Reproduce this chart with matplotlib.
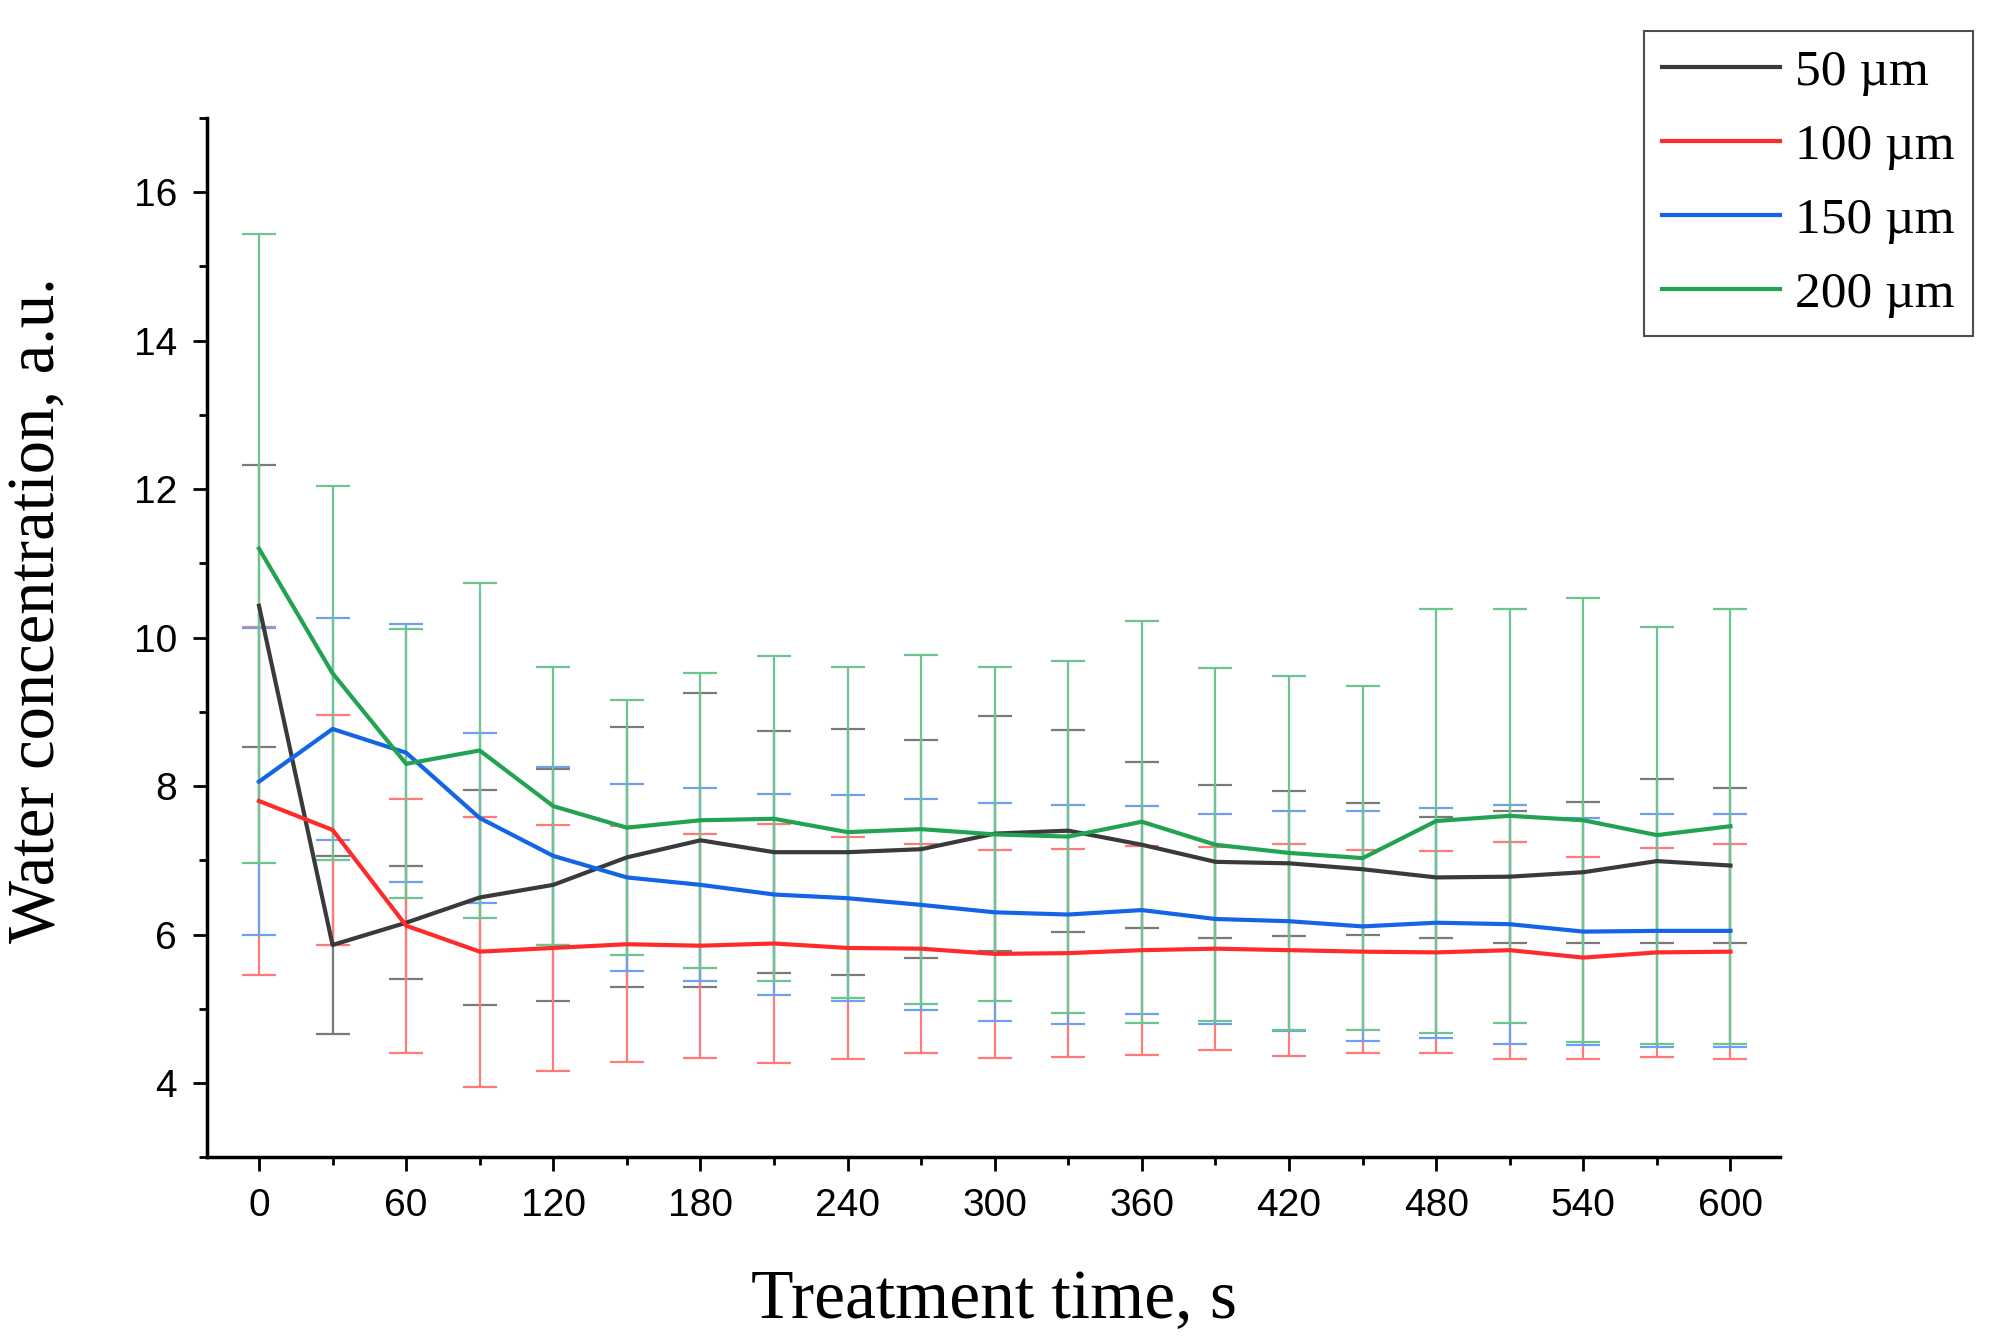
import numpy as np
import matplotlib
matplotlib.use('Agg')
import matplotlib.pyplot as plt
from matplotlib.ticker import MultipleLocator

# treatment time, s
time_s = [0, 30, 60, 90, 120, 150, 180, 210, 240, 270, 300,
          330, 360, 390, 420, 450, 480, 510, 540, 570, 600]

labels = ['50 µm', '100 µm', '150 µm', '200 µm']

mean_50 = [10.43, 5.86, 6.16, 6.50, 6.67, 7.04, 7.27, 7.11, 7.11, 7.15, 7.36,
           7.40, 7.21, 6.98, 6.96, 6.88, 6.77, 6.78, 6.84, 6.99, 6.93]
err_50 = [1.90, 1.20, 0.76, 1.45, 1.56, 1.75, 1.98, 1.63, 1.66, 1.47, 1.58,
          1.36, 1.12, 1.03, 0.98, 0.89, 0.82, 0.89, 0.95, 1.10, 1.04]

mean_100 = [7.80, 7.41, 6.12, 5.77, 5.82, 5.87, 5.85, 5.88, 5.82, 5.81, 5.74,
            5.75, 5.79, 5.81, 5.79, 5.77, 5.76, 5.79, 5.69, 5.76, 5.77]
err_100 = [2.34, 1.55, 1.71, 1.82, 1.66, 1.59, 1.51, 1.61, 1.50, 1.41, 1.40,
           1.40, 1.41, 1.37, 1.43, 1.37, 1.36, 1.46, 1.36, 1.41, 1.45]

mean_150 = [8.06, 8.77, 8.45, 7.57, 7.06, 6.77, 6.67, 6.54, 6.49, 6.40, 6.30,
            6.27, 6.33, 6.21, 6.18, 6.11, 6.16, 6.14, 6.04, 6.05, 6.05]
err_150 = [2.07, 1.50, 1.74, 1.14, 1.20, 1.26, 1.30, 1.36, 1.39, 1.42, 1.47,
           1.48, 1.40, 1.42, 1.48, 1.55, 1.55, 1.61, 1.53, 1.57, 1.57]

mean_200 = [11.20, 9.52, 8.30, 8.48, 7.73, 7.44, 7.54, 7.56, 7.38, 7.42, 7.35,
            7.32, 7.52, 7.21, 7.10, 7.03, 7.53, 7.60, 7.54, 7.34, 7.46]
err_200 = [4.24, 2.52, 1.81, 2.25, 1.87, 1.72, 1.99, 2.19, 2.23, 2.35, 2.25,
           2.37, 2.71, 2.38, 2.39, 2.32, 2.86, 2.79, 2.99, 2.81, 2.93]

colors = ['#3a3a3a', '#ff2b2b', '#1464e6', '#22a352']
err_colors = ['#7a7a7a', '#ff7a7a', '#6fa0f0', '#6cc58e']
means = [mean_50, mean_100, mean_150, mean_200]
errs = [err_50, err_100, err_150, err_200]

plt.rcParams['font.family'] = ['Liberation Sans', 'DejaVu Sans']

fig = plt.figure(figsize=(19.95, 13.41), dpi=100)
ax = fig.add_axes([0.104, 0.137, 0.788, 0.775])

handles = []
for i, (m, e, c, ec, lab) in enumerate(zip(means, errs, colors, err_colors, labels)):
    ax.errorbar(time_s, m, yerr=e, fmt='none', ecolor=ec, elinewidth=1.6,
                capsize=12, capthick=1.6, zorder=2 + i * 0.1)
    h, = ax.plot(time_s, m, color=c, lw=3, label=lab, zorder=3)
    handles.append(h)

ax.set_xlim(-21, 620)
ax.set_ylim(3, 17)
ax.xaxis.set_major_locator(MultipleLocator(60))
ax.xaxis.set_minor_locator(MultipleLocator(30))
ax.yaxis.set_minor_locator(MultipleLocator(1))
ax.set_yticks(np.arange(4, 17, 2))

for s in ['top', 'right']:
    ax.spines[s].set_visible(False)
for s in ['left', 'bottom']:
    ax.spines[s].set_linewidth(2.5)

ax.tick_params(which='major', length=10, width=2, labelsize=28, pad=12)
ax.tick_params(which='minor', length=6, width=2)

ax.set_xlabel('Treatment time, s', family='Liberation Serif', fontsize=50, labelpad=33)
ax.set_ylabel('Water concentration, a.u.', family='Liberation Serif', fontsize=48)
ax.yaxis.set_label_coords(-0.089, 0.526)

leg = fig.legend(handles=handles, loc='upper right', bbox_to_anchor=(0.989, 0.977),
                 prop={'family': 'Liberation Serif', 'size': 37}, frameon=True,
                 fancybox=False, edgecolor='#222222', handlelength=2.3,
                 labelspacing=0.53, borderpad=0.35, handletextpad=0.3,
                 borderaxespad=0)
leg.get_frame().set_linewidth(1.5)
for l in leg.get_lines():
    l.set_linewidth(3)

fig.savefig('out.png', dpi=100)
